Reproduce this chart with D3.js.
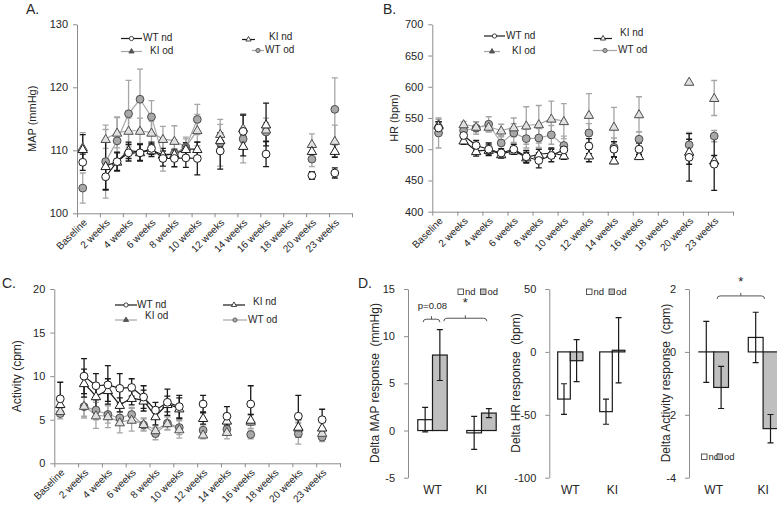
<!DOCTYPE html>
<html><head><meta charset="utf-8">
<script src="https://cdn.jsdelivr.net/npm/d3@7"></script>
<style>
body{margin:0;background:#fff;}
svg{display:block;font-family:"Liberation Sans",Arial,sans-serif;}
</style>
</head><body>
<svg id="c" width="777" height="508"></svg>
<script>
// ---------- DATA ----------
const weekIdx = [0,2,3,4,5,6,7,8,9,10,12,14,16,20,22];
const xTickIdx = [0,2,4,6,8,10,12,14,16,18,20,22];
const xTickLabels = ["Baseline","2 weeks","4 weeks","6 weeks","8 weeks","10 weeks","12 weeks","14 weeks","16 weeks","18 weeks","20 weeks","23 weeks"];
const seriesNames = ["WT nd","KI nd","KI od","WT od"];

// A: MAP (mmHg)
const mapTicks = [100,110,120,130];
const mapWTnd    = [108.1,105.8,108.2,109.6,109.6,110.3,108.7,108.7,108.8,108.7,109.9,113.0,109.4,106.0,106.4];
const mapWTndErr = [1.3,2.0,1.4,1.3,1.3,1.0,1.2,1.3,1.5,2.6,2.9,2.6,2.0,0.6,0.8];
const mapKInd    = [110.2,107.5,108.2,110.0,109.7,110.0,109.3,109.4,110.2,110.2,111.6,110.7,114.1,109.9,109.9];
const mapKIndErr = [2.3,3.8,1.5,1.3,1.3,1.0,1.0,0.8,1.0,1.1,1.0,1.6,3.4,1.0,1.0];
const mapKIod    = [110.5,111.8,112.8,113.1,113.1,112.8,111.8,111.5,110.5,113.2,112.6,113.5,113.3,111.0,111.5];
const mapKIodErr = [2.3,1.5,2.4,2.0,2.0,1.8,2.0,2.4,1.6,2.5,1.5,2.3,1.8,1.6,2.5];
const mapWTod    = [104.0,108.2,111.5,115.8,118.1,115.3,109.0,109.5,110.5,114.9,111.2,111.8,112.9,108.6,116.5];
const mapWTodErr = [2.4,5.8,3.8,5.3,4.8,2.6,2.3,2.2,1.3,2.4,3.7,3.8,1.5,1.2,5.0];

// B: HR (bpm)
const hrTicks = [400,450,500,550,600,650,700];
const hrWTnd    = [534,522,506,500,494,500,488,482,490,499,505,500,500,487,476];
const hrWTndErr = [10,8,8,10,7,8,10,12,10,8,12,12,10,38,42];
const hrKInd    = [538,514,497,499,492,498,487,492,494,490,490,482,489,496,482];
const hrKIndErr = [6,6,8,8,6,6,8,8,8,6,10,5,3,20,8];
const hrKIod    = [540,540,536,536,530,535,538,540,549,545,555,536,556,608,582];
const hrKIodErr = [8,4,8,8,10,15,30,30,28,28,34,31,28,0,28];
const hrWTod    = [526,530,534,540,510,526,517,518,523,506,526,503,516,507,521];
const hrWTodErr = [24,10,10,12,12,15,15,15,15,15,15,15,12,20,9];

// C: Activity (cpm)
const actTicks = [0,5,10,15,20];
const actWTnd    = [7.4,10.0,8.9,9.0,8.6,8.7,7.6,6.1,7.0,6.5,6.8,5.4,6.8,5.4,5.0];
const actWTndErr = [1.9,2.0,1.4,2.2,1.7,1.0,1.3,0.9,1.5,1.3,1.0,1.1,2.1,2.4,1.2];
const actKInd    = [6.8,9.2,7.7,8.4,6.7,7.5,7.2,5.4,6.8,6.3,5.2,4.9,5.0,4.2,4.1];
const actKIndErr = [0.8,1.6,1.3,1.3,0.8,0.8,1.2,1.0,0.9,1.2,0.7,0.8,0.6,0.8,0.6];
const actKIod    = [6.0,6.6,5.5,5.4,4.7,5.0,4.5,3.8,4.6,3.9,3.3,3.6,4.8,4.1,3.5];
const actKIodErr = [0.6,1.4,1.5,1.3,1.2,1.3,0.7,0.5,0.7,1.0,0.5,0.8,0.8,0.6,0.6];
const actWTod    = [5.7,6.5,6.1,5.6,5.2,5.6,4.4,3.4,4.6,4.1,3.8,3.9,3.3,3.4,3.0];
const actWTodErr = [0.6,1.1,1.1,1.0,0.7,0.8,0.7,0.7,0.8,0.8,0.6,0.6,0.5,1.2,0.5];

// D: delta responses (groups WT, KI; bars nd, od)
const dGroups = ["WT","KI"];
const dKeys = ["nd","od"];
const dMapNd = [1.15,-0.25],  dMapNdErr = [1.3,1.75];
const dMapOd = [8.0,1.85],    dMapOdErr = [2.7,0.48];
const dMapTicks = [-5,0,5,10,15];
const dHrNd = [-37.5,-47.5],  dHrNdErr = [12.2,10];
const dHrOd = [-7,1.3],       dHrOdErr = [16.7,26];
const dHrTicks = [-100,-50,0,50];
const dActNd = [0.0,0.46],    dActNdErr = [0.97,0.8];
const dActOd = [-1.13,-2.44], dActOdErr = [0.67,0.45];
const dActTicks = [-4,-2,0,2];

// ---------- DRAW ----------
const svg = d3.select("#c");
const AX = "#8c8c8c", TXT = "#262626";
const styles = {
  "WT nd": {line:"#1a1a1a", err:"#1a1a1a", sym:d3.symbolCircle, size:48, fill:"#fff", stroke:"#1a1a1a"},
  "KI nd": {line:"#1a1a1a", err:"#1a1a1a", sym:d3.symbolTriangle, size:38, fill:"#fff", stroke:"#1a1a1a"},
  "KI od": {line:"#a6a6a6", err:"#a6a6a6", sym:d3.symbolTriangle, size:38, fill:"#e0e0e0", stroke:"#4d4d4d"},
  "WT od": {line:"#a6a6a6", err:"#a6a6a6", sym:d3.symbolCircle, size:48, fill:"#a8a8a8", stroke:"#4d4d4d"}
};
const fmt = d => String(d);

function linePanel(cfg){
  const x = d3.scaleLinear().domain([-0.5,23.5]).range(cfg.xr);
  const y = d3.scaleLinear().domain(cfg.yd).range(cfg.yr);
  const g = svg.append("g");
  const ya = g.append("g").attr("transform",`translate(${cfg.xr[0]},0)`)
    .call(d3.axisLeft(y).tickValues(cfg.ticks).tickFormat(fmt).tickSize(4).tickSizeOuter(0).tickPadding(5));
  ya.selectAll("path,line").attr("stroke",AX);
  ya.selectAll("text").attr("font-size",cfg.tfs||11).attr("fill",TXT).attr("font-family",null);
  const xa = g.append("g").attr("transform",`translate(0,${cfg.yr[0]})`)
    .call(d3.axisBottom(x).tickValues(d3.range(-0.5,24,2)).tickSize(4).tickSizeOuter(0).tickFormat(""));
  xa.selectAll("path,line").attr("stroke",AX);
  g.selectAll(".xl").data(xTickIdx).join("text")
    .attr("transform",(d)=>`translate(${x(d)+3},${cfg.yr[0]+8}) rotate(-45)`)
    .attr("text-anchor","end").attr("dominant-baseline","middle")
    .attr("font-size",10).attr("fill",TXT)
    .text((d,i)=>xTickLabels[i]);
  g.append("text").attr("transform",`translate(${cfg.ylx},${(cfg.yr[0]+cfg.yr[1])/2}) rotate(-90)`)
    .attr("text-anchor","middle").attr("dominant-baseline","middle")
    .attr("font-size",cfg.yfs).attr("fill",TXT).text(cfg.ytitle);
  const order = ["WT od","KI od","KI nd","WT nd"];
  const ser = {};
  seriesNames.forEach((n,k)=>ser[n]={v:cfg.vals[k],e:cfg.errs[k]});
  order.forEach(n=>{
    const st = styles[n];
    const pts = weekIdx.map((w,i)=>({w,v:ser[n].v[i],e:ser[n].e[i]})).filter(d=>d.e>0);
    const eg = g.append("g").attr("stroke",st.err).attr("stroke-width",1.3).attr("fill","none");
    eg.selectAll("path").data(pts).join("path")
      .attr("d",d=>{const cx=x(d.w),t=y(d.v+d.e),b=y(d.v-d.e);
        return `M${cx},${t}V${b}M${cx-3},${t}H${cx+3}M${cx-3},${b}H${cx+3}`;});
  });
  order.forEach(n=>{
    const st = styles[n];
    const full = d3.range(24).map(k=>{const i=weekIdx.indexOf(k);return i<0?null:{w:k,v:ser[n].v[i]};});
    g.append("path").datum(full)
      .attr("d",d3.line().defined(d=>d!==null).x(d=>x(d.w)).y(d=>y(d.v)))
      .attr("fill","none").attr("stroke",st.line).attr("stroke-width",1.2);
  });
  order.forEach(n=>{
    const st = styles[n];
    const pts = weekIdx.map((w,i)=>({w,v:ser[n].v[i]}));
    g.append("g").selectAll("path").data(pts).join("path")
      .attr("d",d3.symbol(st.sym,st.size))
      .attr("transform",d=>`translate(${x(d.w)},${y(d.v)+(st.sym===d3.symbolTriangle?0.8:0)})`)
      .attr("fill",st.fill).attr("stroke",st.stroke).attr("stroke-width",1);
  });
  cfg.legend.forEach(L=>{
    const st = styles[L.n];
    const lg = g.append("g");
    lg.append("line").attr("x1",L.x).attr("x2",L.x+L.w).attr("y1",L.y).attr("y2",L.y)
      .attr("stroke",st.line).attr("stroke-width",1.2);
    lg.append("path").attr("d",d3.symbol(st.sym,st.sym===d3.symbolTriangle?12:14))
      .attr("transform",`translate(${L.x+L.w/2},${L.y})`)
      .attr("fill",L.n==="KI od"?"#555":(L.n==="WT od"?"#a8a8a8":"#fff")).attr("stroke",st.stroke).attr("stroke-width",0.8);
    lg.append("text").attr("x",L.tx).attr("y",L.ty||L.y).attr("dominant-baseline","middle")
      .attr("font-size",10).attr("fill",TXT).text(L.n);
  });
}

linePanel({xr:[77,352], yr:[213.3,24.3], yd:[100,130], ticks:mapTicks, ylx:33, ytitle:"MAP (mmHg)", yfs:11,
  vals:[mapWTnd,mapKInd,mapKIod,mapWTod], errs:[mapWTndErr,mapKIndErr,mapKIodErr,mapWTodErr],
  legend:[{n:"WT nd",x:121,w:21,y:38.5,tx:143},{n:"KI od",x:121,w:21,y:51.5,tx:150},
          {n:"KI nd",x:242,w:13,y:39.5,tx:269,ty:37.5},{n:"WT od",x:252,w:12,y:50.5,tx:265}]});
linePanel({xr:[432.3,733], yr:[211.7,24.3], yd:[400,700], ticks:hrTicks, ylx:395, ytitle:"HR (bpm)", yfs:11,
  vals:[hrWTnd,hrKInd,hrKIod,hrWTod], errs:[hrWTndErr,hrKIndErr,hrKIodErr,hrWTodErr],
  legend:[{n:"WT nd",x:484,w:21,y:36,tx:506},{n:"KI od",x:484,w:16,y:51.5,tx:512},
          {n:"KI nd",x:594,w:18,y:38.5,tx:620,ty:33},{n:"WT od",x:593,w:24,y:50.5,tx:618}]});
linePanel({xr:[54.3,340], yr:[463.3,289], yd:[0,20], ticks:actTicks, ylx:18, ytitle:"Activity (cpm)", yfs:12,
  vals:[actWTnd,actKInd,actKIod,actWTod], errs:[actWTndErr,actKIndErr,actKIodErr,actWTodErr],
  legend:[{n:"WT nd",x:115,w:22,y:305,tx:137},{n:"KI od",x:115,w:22,y:320,tx:145,ty:316.5},
          {n:"KI nd",x:223,w:22,y:305,tx:253,ty:302.5},{n:"WT od",x:223,w:24,y:320,tx:248}]});

[["A.",26,14],["B.",383,14],["C.",2,288],["D.",358,288]].forEach(p=>{
  svg.append("text").attr("x",p[1]).attr("y",p[2]).attr("font-size",14).attr("fill",TXT).text(p[0]);
});

function barPanel(cfg){
  const x0 = d3.scaleBand().domain(dGroups).range(cfg.xr).paddingInner(0.4).paddingOuter(0.2);
  const x1 = d3.scaleBand().domain(dKeys).range([0,x0.bandwidth()]);
  const y = d3.scaleLinear().domain(cfg.yd).range([477.7,289]);
  const g = svg.append("g");
  const ya = g.append("g").attr("transform",`translate(${cfg.xr[0]},0)`)
    .call(d3.axisLeft(y).tickValues(cfg.ticks).tickFormat(fmt).tickSize(4).tickSizeOuter(0).tickPadding(9));
  ya.selectAll("path,line").attr("stroke",AX);
  ya.selectAll("text").attr("font-size",11).attr("fill",TXT).attr("font-family",null);
  g.selectAll(".gl").data(dGroups).join("text")
    .attr("x",d=>x0(d)+x0.bandwidth()/2).attr("y",494).attr("text-anchor","middle")
    .attr("font-size",12).attr("fill",TXT).text(d=>d);
  g.append("text").attr("transform",`translate(${cfg.ylx},383) rotate(-90)`)
    .attr("text-anchor","middle").attr("dominant-baseline","middle")
    .attr("font-size",12).attr("fill",TXT).attr("xml:space","preserve").text(cfg.ytitle);
  const data = [];
  dGroups.forEach((gname,i)=>{
    data.push({g:gname,k:"nd",v:cfg.nd[i],e:cfg.ndE[i]});
    data.push({g:gname,k:"od",v:cfg.od[i],e:cfg.odE[i]});
  });
  g.selectAll(".bar").data(data).join("rect")
    .attr("x",d=>x0(d.g)+x1(d.k)).attr("width",x1.bandwidth())
    .attr("y",d=>y(Math.max(0,d.v))).attr("height",d=>Math.max(0.01,Math.abs(y(d.v)-y(0))))
    .attr("fill",d=>d.k==="nd"?"#fff":"#bfbfbf").attr("stroke","#1a1a1a").attr("stroke-width",1.2);
  g.selectAll(".eb").data(data).join("path")
    .attr("d",d=>{const cx=x0(d.g)+x1(d.k)+x1.bandwidth()/2,t=y(d.v+d.e),b=y(d.v-d.e);
      return `M${cx},${t}V${b}M${cx-3},${t}H${cx+3}M${cx-3},${b}H${cx+3}`;})
    .attr("stroke","#1a1a1a").attr("stroke-width",1.2).attr("fill","none");
  const L = cfg.leg;
  g.append("rect").attr("x",L.x).attr("y",L.y-3).attr("width",5.5).attr("height",5.5).attr("fill","#fff").attr("stroke","#333").attr("stroke-width",0.8);
  g.append("text").attr("x",L.x+7).attr("y",L.y).attr("dominant-baseline","middle").attr("font-size",9.5).attr("fill",TXT).text("nd");
  g.append("rect").attr("x",L.x+L.dx).attr("y",L.y-3).attr("width",5.5).attr("height",5.5).attr("fill","#bfbfbf").attr("stroke","#333").attr("stroke-width",0.8);
  g.append("text").attr("x",L.x+L.dx+7).attr("y",L.y).attr("dominant-baseline","middle").attr("font-size",9.5).attr("fill",TXT).text("od");
  (cfg.brackets||[]).forEach(B=>{
    const xa = x0(B.a[0])+x1(B.a[1])+x1.bandwidth()/2+B.da, xb = x0(B.b[0])+x1(B.b[1])+x1.bandwidth()/2+B.db;
    const yy = y(B.y), m=(xa+xb)/2;
    g.append("path").attr("d",`M${xa},${yy+3}Q${xa},${yy} ${xa+3},${yy}H${xb-3}Q${xb},${yy} ${xb},${yy+3}M${m},${yy}V${yy-3}`)
      .attr("fill","none").attr("stroke","#555").attr("stroke-width",1);
    g.append("text").attr("x",m+B.tdx).attr("y",y(B.ty)).attr("text-anchor","middle").attr("dominant-baseline","middle")
      .attr("font-size",B.fs).attr("fill",TXT).text(B.label);
  });
}

barPanel({xr:[408,506], yd:[-5,15], ticks:dMapTicks, ylx:376, ytitle:"Delta MAP response  (mmHg)",
  nd:dMapNd, ndE:dMapNdErr, od:dMapOd, odE:dMapOdErr, leg:{x:458,y:292,dx:22.5},
  brackets:[{a:["WT","nd"],b:["WT","od"],da:-2,db:0,y:11.8,ty:13.1,tdx:1,label:"p=0.08",fs:9.5},
            {a:["WT","od"],b:["KI","od"],da:4,db:-2,y:11.9,ty:13.5,tdx:0,label:"*",fs:13}]});
barPanel({xr:[549.3,633.3], yd:[-100,50], ticks:dHrTicks, ylx:517, ytitle:"Delta HR response  (bpm)",
  nd:dHrNd, ndE:dHrNdErr, od:dHrOd, odE:dHrOdErr, leg:{x:586.5,y:292,dx:22.5}});
barPanel({xr:[689,787.8], yd:[-4,2], ticks:dActTicks, ylx:667, ytitle:"Delta Activity response  (cpm)",
  nd:dActNd, ndE:dActNdErr, od:dActOd, odE:dActOdErr, leg:{x:701.5,y:457,dx:15.5},
  brackets:[{a:["WT","od"],b:["KI","od"],da:-4,db:-6,y:1.78,ty:2.2,tdx:0,label:"*",fs:13}]});
</script>
</body></html>
